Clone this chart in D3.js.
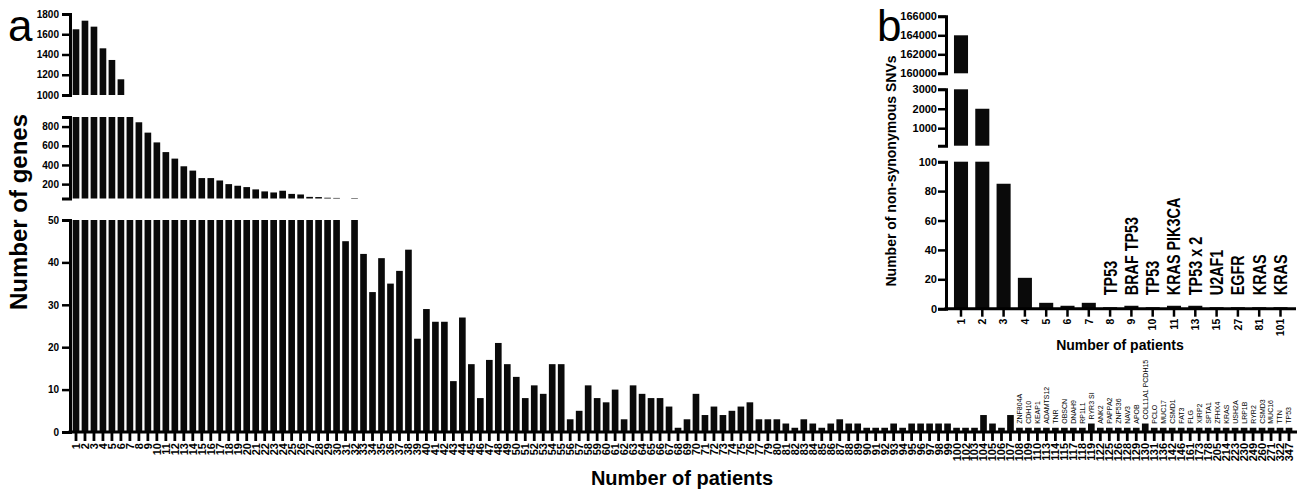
<!DOCTYPE html>
<html>
<head>
<meta charset="utf-8">
<script src="https://cdn.jsdelivr.net/npm/d3@7"></script>
<style>
  body { margin: 0; background: #fff; }
  svg { display: block; }
  text { font-family: "Liberation Sans", Arial, Helvetica, sans-serif; fill: #000; }
</style>
</head>
<body>
<svg id="chart" width="1303" height="493"></svg>
<script>
// ---- panel a: number of genes mutated in N patients ----
const patientCounts = [
    1, 2, 3, 4, 5, 6, 7, 8, 9, 10,
    11, 12, 13, 14, 15, 16, 17, 18, 19, 20,
    21, 22, 23, 24, 25, 26, 27, 28, 29, 30,
    31, 32, 33, 34, 35, 36, 37, 38, 39, 40,
    41, 42, 43, 44, 45, 46, 47, 48, 49, 50,
    51, 52, 53, 54, 55, 56, 57, 58, 59, 60,
    61, 62, 63, 64, 65, 66, 67, 68, 69, 70,
    71, 72, 73, 74, 75, 76, 77, 79, 80, 81,
    82, 83, 84, 85, 86, 87, 88, 89, 90, 91,
    92, 93, 94, 95, 96, 97, 98, 99, 100, 102,
    103, 104, 105, 106, 107, 108, 109, 110, 113, 114,
    115, 117, 118, 119, 122, 125, 126, 128, 129, 130,
    131, 136, 142, 146, 161, 173, 178, 205, 214, 223,
    230, 249, 260, 271, 322, 347
];
const geneCounts = [
    1649, 1734, 1675, 1461, 1346, 1155, 960, 845, 737, 635,
    534, 466, 386, 341, 263, 263, 238, 200, 183, 169,
    145, 124, 113, 131, 98, 92, 67, 65, 58, 56,
    45, 55, 42, 33, 41, 35, 38, 43, 22, 29,
    26, 26, 12, 27, 16, 8, 17, 21, 16, 13,
    8, 11, 9, 16, 16, 3, 5, 11, 8, 7,
    10, 3, 11, 9, 8, 8, 6, 1, 3, 9,
    4, 6, 4, 5, 6, 7, 3, 3, 3, 2,
    1, 3, 2, 1, 2, 3, 2, 2, 1, 1,
    1, 2, 1, 2, 2, 2, 2, 2, 1, 1,
    1, 4, 2, 1, 4, 1, 1, 1, 1, 1,
    1, 1, 1, 2, 1, 1, 1, 1, 1, 2,
    1, 1, 1, 1, 1, 1, 1, 1, 1, 1,
    1, 1, 1, 1, 1, 1
];
const geneTags = [
    [108, "ZNF804A"], [109, "CDH10"], [110, "KEAP1"], [113, "ADAMTS12"],
    [114, "TNR"], [115, "OBSCN"], [117, "DNAH9"], [118, "RP1L1"],
    [119, "RYR3 SI"], [122, "ANK2"], [125, "PAPPA2"], [126, "ZNF536"],
    [128, "NAV3"], [129, "APOB"], [130, "COL11A1 PCDH15"], [131, "PCLO"],
    [136, "MUC17"], [142, "CSMD1"], [146, "FAT3"], [161, "FLG"],
    [173, "XIRP2"], [178, "SPTA1"], [205, "ZFHX4"], [214, "KRAS"],
    [223, "USH2A"], [230, "LRP1B"], [249, "RYR2"], [260, "CSMD3"],
    [271, "MUC16"], [322, "TTN"], [347, "TP53"]
];
const mainTicksLow = [0, 10, 20, 30, 40, 50];
const mainTicksMid = [200, 400, 600, 800];
const mainTicksTop = [1000, 1200, 1400, 1600, 1800];

// ---- panel b: number of non-synonymous SNVs found in N patients ----
const insetPatients = [1, 2, 3, 4, 5, 6, 7, 8, 9, 10, 11, 13, 15, 27, 81, 101];
const insetSNVs = [164000, 2000, 85, 21, 4, 2, 4, 1, 2, 1, 2, 2, 1, 1, 1, 1];
const insetTags = [
    [8, "TP53"], [9, "BRAF TP53"], [10, "TP53"], [11, "KRAS PIK3CA"],
    [13, "TP53 x 2"], [15, "U2AF1"], [27, "EGFR"], [81, "KRAS"], [101, "KRAS"]
];
const insetTicksLow = [0, 20, 40, 60, 80, 100];
const insetTicksMid = [1000, 2000, 3000];
const insetTicksTop = [160000, 162000, 164000, 166000];

const FONT = '"Liberation Sans", Arial, Helvetica, sans-serif';
const svg = d3.select("#chart");

// bars + left axis for each piece of a broken y axis
function brokenBars(g, x, segments, cats, vals, axisX, fontSize, pad) {
    const rows = cats.map((c, i) => ({ c, v: vals[i] }));
    segments.forEach(s => {
        const [lo, hi] = s.domain;
        const y = d3.scaleLinear().domain(s.domain).range(s.range);
        g.append("g")
            .selectAll("rect")
            .data(rows.filter(d => d.v > lo))
            .join("rect")
            .attr("x", d => x(d.c))
            .attr("width", x.bandwidth())
            .attr("y", d => y(Math.min(d.v, hi)))
            .attr("height", d => y(lo) - y(Math.min(d.v, hi)))
            .attr("fill", "#0a0a0a");

        const ax = g.append("g")
            .attr("transform", `translate(${axisX},0)`)
            .call(d3.axisLeft(y).tickValues(s.ticks).tickFormat(d3.format("d"))
                .tickSize(8).tickSizeOuter(8).tickPadding(pad));
        ax.select(".domain").attr("stroke", "#000").attr("stroke-width", 3);
        ax.selectAll(".tick line").attr("stroke", "#000").attr("stroke-width", 2.5);
        ax.selectAll(".tick text")
            .attr("font-family", FONT).attr("font-size", fontSize).attr("font-weight", "bold");
    });
}

// ================= panel a =================
const gA = svg.append("g");

const xMain = d3.scaleBand()
    .domain(patientCounts)
    .range([71.5, 1293.5])
    .paddingInner(0.26)
    .paddingOuter(0.13);

brokenBars(gA, xMain, [
    { domain: [0, 50], range: [432, 220], ticks: mainTicksLow },
    { domain: [50, 900], range: [198.5, 117], ticks: mainTicksMid },
    { domain: [1000, 1800], range: [95, 14], ticks: mainTicksTop }
], patientCounts, geneCounts, 70, 10, 3);

const xAxisA = gA.append("g")
    .attr("transform", "translate(0,432)")
    .call(d3.axisBottom(xMain).tickSize(9).tickSizeOuter(0));
xAxisA.select(".domain").remove();
xAxisA.selectAll(".tick line").attr("stroke", "#000").attr("stroke-width", 2.8);
xAxisA.selectAll(".tick text")
    .attr("font-family", FONT).attr("font-size", 11).attr("font-weight", "bold")
    .attr("transform", "rotate(-90)")
    .attr("text-anchor", "end")
    .attr("x", -11).attr("y", 0).attr("dy", "0.36em");
gA.append("line")
    .attr("x1", 68.5).attr("x2", 1297).attr("y1", 432).attr("y2", 432)
    .attr("stroke", "#000").attr("stroke-width", 3);

const yLowA = d3.scaleLinear().domain([0, 50]).range([432, 220]);
const valueOf = new Map(patientCounts.map((c, i) => [c, geneCounts[i]]));
gA.append("g")
    .selectAll("text")
    .data(geneTags)
    .join("text")
    .attr("transform", d => `translate(${xMain(d[0]) + xMain.bandwidth() / 2},${yLowA(valueOf.get(d[0])) - 4}) rotate(-90)`)
    .attr("dy", "0.35em")
    .attr("font-size", 7)
    .text(d => d[1]);

gA.append("text")
    .attr("transform", "translate(27,212) rotate(-90)")
    .attr("text-anchor", "middle")
    .attr("font-size", 24).attr("font-weight", "bold")
    .text("Number of genes");
gA.append("text")
    .attr("x", 682).attr("y", 485)
    .attr("text-anchor", "middle")
    .attr("font-size", 20).attr("font-weight", "bold")
    .text("Number of patients");
gA.append("text")
    .attr("x", 8).attr("y", 41)
    .attr("font-size", 44)
    .text("a");

// ================= panel b =================
const gB = svg.append("g");

const xInset = d3.scaleBand()
    .domain(insetPatients)
    .range([950.35, 1291.15])
    .paddingInner(0.34)
    .paddingOuter(0.17);

brokenBars(gB, xInset, [
    { domain: [0, 100], range: [308.7, 161.7], ticks: insetTicksLow },
    { domain: [100, 3000], range: [145.7, 89.3], ticks: insetTicksMid },
    { domain: [160000, 166000], range: [73.3, 16.3], ticks: insetTicksTop }
], insetPatients, insetSNVs, 946, 11, 1);

const xAxisB = gB.append("g")
    .attr("transform", "translate(0,308.7)")
    .call(d3.axisBottom(xInset).tickSize(8).tickSizeOuter(0));
xAxisB.select(".domain").remove();
xAxisB.selectAll(".tick line").attr("stroke", "#000").attr("stroke-width", 2.5);
xAxisB.selectAll(".tick text")
    .attr("font-family", FONT).attr("font-size", 10.5).attr("font-weight", "bold")
    .attr("transform", "rotate(-90)")
    .attr("text-anchor", "end")
    .attr("x", -10).attr("y", 0).attr("dy", "0.36em");
gB.append("line")
    .attr("x1", 944.5).attr("x2", 1296).attr("y1", 308.7).attr("y2", 308.7)
    .attr("stroke", "#000").attr("stroke-width", 3);

const yLowB = d3.scaleLinear().domain([0, 100]).range([308.7, 161.7]);
gB.append("g")
    .selectAll("text")
    .data(insetTags)
    .join("text")
    .attr("transform", d => `translate(${xInset(d[0]) + xInset.bandwidth() / 2},${yLowB(1) - 12}) rotate(-90) scale(0.8,1)`)
    .attr("dy", "0.36em")
    .attr("font-size", 18).attr("font-weight", "bold")
    .text(d => d[1]);

gB.append("text")
    .attr("transform", "translate(896,171) rotate(-90)")
    .attr("text-anchor", "middle")
    .attr("font-size", 14).attr("font-weight", "bold")
    .text("Number of non-synonymous SNVs");
gB.append("text")
    .attr("x", 1120).attr("y", 350)
    .attr("text-anchor", "middle")
    .attr("font-size", 14).attr("font-weight", "bold")
    .text("Number of patients");
gB.append("text")
    .attr("x", 877).attr("y", 41)
    .attr("font-size", 44)
    .text("b");
</script>
</body>
</html>
